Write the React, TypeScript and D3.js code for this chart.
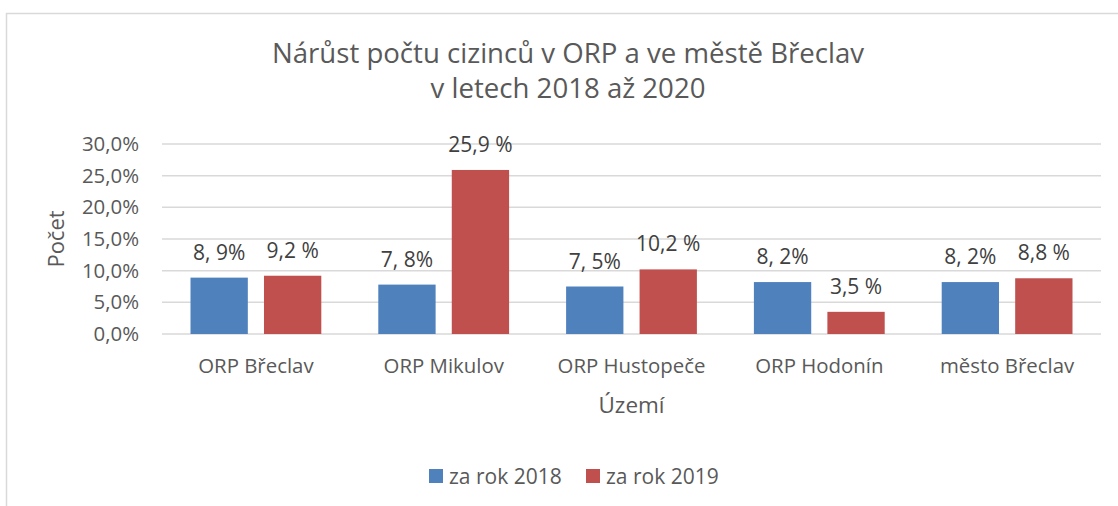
import React from "react";
import * as d3 from "d3";

const categories = ["ORP Břeclav", "ORP Mikulov", "ORP Hustopeče", "ORP Hodonín", "město Břeclav"];
const series2018 = [8.9, 7.8, 7.5, 8.2, 8.2];
const series2019 = [9.2, 25.9, 10.2, 3.5, 8.8];
const labels2018 = ["8, 9%", "7, 8%", "7, 5%", "8, 2%", "8, 2%"];
const labels2019 = ["9,2 %", "25,9 %", "10,2 %", "3,5 %", "8,8 %"];
const yTicks = [0, 5, 10, 15, 20, 25, 30];
const seriesNames = ["za rok 2018", "za rok 2019"];
const colors = ["#4F81BD", "#C0504D"];

const W = 1118;
const H = 506;
const FONT = "'Open Sans', sans-serif";

export default function App() {
  const left = 162;
  const right = 1101;
  const top = 144;
  const bottom = 334;

  const x0 = d3.scaleBand<string>().domain(categories).range([left, right]).paddingInner(0).paddingOuter(0);
  const bw = x0.bandwidth();
  const x1 = d3.scaleBand<string>().domain(seriesNames).range([28.5, bw - 28.5]).paddingInner(0.22);
  const y = d3.scaleLinear().domain([0, 30]).range([bottom, top]);

  const series = [series2018, series2019];
  const labels = [labels2018, labels2019];

  return (
    <svg width={W} height={H} style={{ position: "absolute", left: 0, top: 0, display: "block" }}>
      <rect x={0} y={0} width={W} height={H} fill="#fff" />
      <path d={`M6.5,${H} V13.5 H${W}`} fill="none" stroke="#D9D9D9" strokeWidth={1.5} />
      <text x={568} y={63} textAnchor="middle" fontFamily={FONT} fontSize={27.6} fill="#595959">
        Nárůst počtu cizinců v ORP a ve městě Břeclav
      </text>
      <text x={568} y={98} textAnchor="middle" fontFamily={FONT} fontSize={27.6} fill="#595959">
        v letech 2018 až 2020
      </text>
      {yTicks.map((t) => (
        <g key={t}>
          <line x1={left} x2={right} y1={y(t)} y2={y(t)} stroke="#D9D9D9" strokeWidth={1.5} />
          <text x={139} y={y(t) + 7} textAnchor="end" fontFamily={FONT} fontSize={20.4} fill="#595959">
            {t.toFixed(1).replace(".", ",")}%
          </text>
        </g>
      ))}
      {series.map((vals, si) =>
        vals.map((v, ci) => {
          const bx = (x0(categories[ci]) as number) + (x1(seriesNames[si]) as number);
          return (
            <g key={`${si}-${ci}`}>
              <rect x={bx} y={y(v)} width={x1.bandwidth()} height={bottom - y(v)} fill={colors[si]} />
              <text
                x={bx + x1.bandwidth() / 2}
                y={y(v) - 18}
                textAnchor="middle"
                fontFamily={FONT}
                fontSize={21}
                fill="#404040"
              >
                {labels[si][ci]}
              </text>
            </g>
          );
        })
      )}
      {categories.map((c) => (
        <text
          key={c}
          x={(x0(c) as number) + bw / 2}
          y={373}
          textAnchor="middle"
          fontFamily={FONT}
          fontSize={20.4}
          fill="#595959"
        >
          {c}
        </text>
      ))}
      <text x={(left + right) / 2} y={413} textAnchor="middle" fontFamily={FONT} fontSize={22.5} fill="#595959">
        Území
      </text>
      <text
        transform={`translate(64,${(top + bottom) / 2}) rotate(-90)`}
        textAnchor="middle"
        fontFamily={FONT}
        fontSize={22}
        fill="#595959"
      >
        Počet
      </text>
      {seriesNames.map((s, i) => {
        const lx = [429, 586][i];
        return (
          <g key={s}>
            <rect x={lx} y={469} width={14} height={14} fill={colors[i]} />
            <text x={lx + 20} y={484} fontFamily={FONT} fontSize={21} fill="#595959">
              {s}
            </text>
          </g>
        );
      })}
    </svg>
  );
}
